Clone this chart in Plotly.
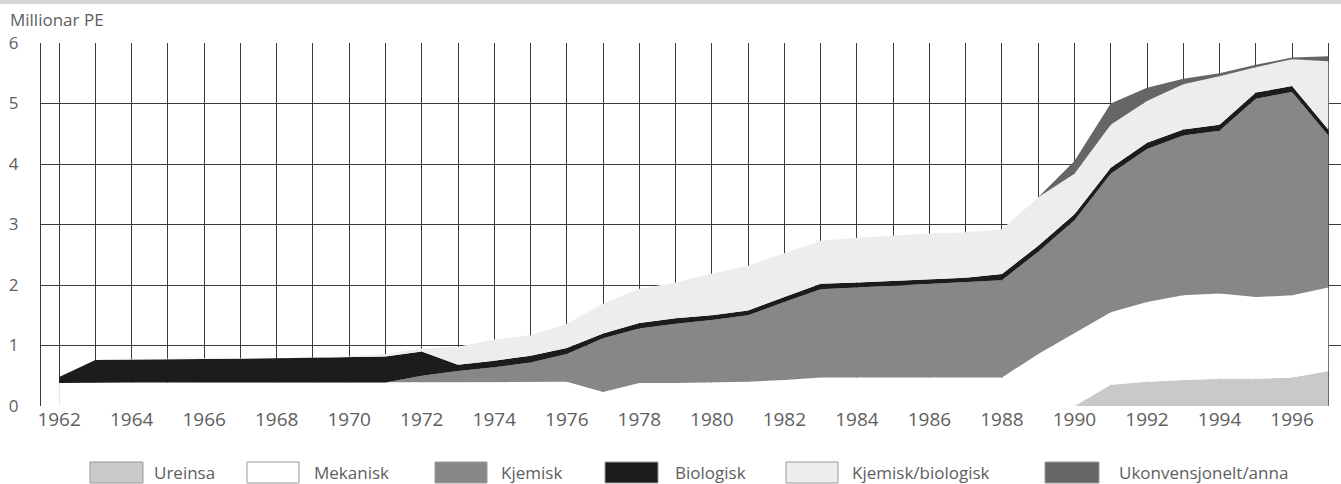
import plotly.graph_objects as go

years = list(range(1962, 1998))
xtick_labels = [str(y) if y % 2 == 0 else "" for y in years]
ytick_vals = [0, 1, 2, 3, 4, 5, 6]

ureinsa = [0.0] * 29 + [0.35, 0.40, 0.43, 0.45, 0.45, 0.47, 0.58]
mekanisk = [0.38, 0.39, 0.39, 0.39, 0.39, 0.39, 0.39, 0.39, 0.39, 0.39,
            0.39, 0.39, 0.39, 0.39, 0.40, 0.23, 0.38, 0.38, 0.39, 0.40,
            0.43, 0.47, 0.47, 0.47, 0.47, 0.47, 0.47, 0.86, 1.20, 1.20,
            1.32, 1.40, 1.41, 1.35, 1.36, 1.38]
kjemisk = [0.0] * 10 + [0.11, 0.19, 0.25, 0.33, 0.46, 0.89, 0.90, 0.98, 1.03, 1.10,
                        1.29, 1.46, 1.49, 1.52, 1.55, 1.57, 1.61, 1.69, 1.87, 2.29,
                        2.53, 2.64, 2.69, 3.28, 3.36, 2.51]
biologisk = [0.10, 0.37, 0.38, 0.38, 0.39, 0.39, 0.40, 0.41, 0.42, 0.43,
             0.40, 0.10, 0.11, 0.11, 0.10, 0.08, 0.09, 0.09, 0.08, 0.08,
             0.08, 0.09, 0.08, 0.08, 0.08, 0.08, 0.10, 0.10, 0.10, 0.10,
             0.10, 0.10, 0.10, 0.10, 0.10, 0.10]
kjem_bio = [0.0, 0.0, 0.01, 0.01, 0.01, 0.01, 0.0, 0.0, 0.01, 0.04,
            0.05, 0.30, 0.35, 0.34, 0.40, 0.49, 0.57, 0.59, 0.69, 0.74,
            0.73, 0.71, 0.74, 0.75, 0.75, 0.75, 0.74, 0.80, 0.67, 0.71,
            0.69, 0.75, 0.80, 0.42, 0.44, 1.13]
ukonv = [0.0] * 28 + [0.21, 0.35, 0.22, 0.09, 0.05, 0.04, 0.03, 0.08]

series = [
    ("Ureinsa", ureinsa, "#c9c9c9"),
    ("Mekanisk", mekanisk, "#ffffff"),
    ("Kjemisk", kjemisk, "#878787"),
    ("Biologisk", biologisk, "#1c1c1c"),
    ("Kjemisk/biologisk", kjem_bio, "#ededed"),
    ("Ukonvensjonelt/anna", ukonv, "#666666"),
]

fig = go.Figure()
for name, vals, col in series:
    fig.add_trace(go.Scatter(
        x=years, y=vals, name=name, mode="lines", stackgroup="one",
        line=dict(width=0, color=col), fillcolor=col, showlegend=False,
        hoverinfo="skip"))

W, H = 1341, 484
ml, mr, mt, mb = 41, 0, 43, 78
pw, ph = W - ml - mr, H - mt - mb
txt_col = "#5e5e5e"

def px_x(p):
    return (p - ml) / pw

def px_y(p):
    return (H - mb - p) / ph

shapes = []
annotations = []
legend_items = [
    ("Ureinsa", "#c9c9c9", 90, 143, 152),
    ("Mekanisk", "#ffffff", 247, 299, 312),
    ("Kjemisk", "#878787", 435, 487, 499),
    ("Biologisk", "#1c1c1c", 605, 658, 673),
    ("Kjemisk/biologisk", "#ededed", 786, 838, 850),
    ("Ukonvensjonelt/anna", "#666666", 1045, 1099, 1117),
]
for name, col, x0, x1, tx in legend_items:
    shapes.append(dict(type="rect", xref="paper", yref="paper",
                       x0=px_x(x0), x1=px_x(x1), y0=px_y(483), y1=px_y(462),
                       fillcolor=col, line=dict(color="#9a9a9a", width=1)))
    annotations.append(dict(xref="paper", yref="paper", x=px_x(tx), y=px_y(472),
                            text=name, showarrow=False, xanchor="left",
                            yanchor="middle",
                            font=dict(size=17, color=txt_col,
                                      family="Open Sans")))

annotations.append(dict(xref="paper", yref="paper", x=px_x(8), y=px_y(19),
                        text="Millionar PE", showarrow=False, xanchor="left",
                        yanchor="middle",
                        font=dict(size=17, color=txt_col, family="Open Sans")))

shapes.append(dict(type="rect", xref="paper", yref="paper",
                   x0=px_x(0), x1=px_x(W), y0=px_y(4), y1=px_y(0),
                   fillcolor="#d4d4d4", line=dict(width=0)))

fig.update_layout(
    width=W, height=H,
    margin=dict(l=ml, r=mr, t=mt, b=mb, pad=0),
    paper_bgcolor="white", plot_bgcolor="white",
    shapes=shapes, annotations=annotations,
    xaxis=dict(range=[1961.5, 1997.35], tickvals=years, ticktext=xtick_labels,
               showgrid=True, gridcolor="#3a3a3a", gridwidth=1,
               zeroline=False, ticks="", showline=False,
               tickfont=dict(size=19, color=txt_col, family="Open Sans")),
    yaxis=dict(range=[0, 6], tickvals=ytick_vals,
               showgrid=True, gridcolor="#3a3a3a", gridwidth=1,
               zeroline=False, ticks="", showline=True, linecolor="#3a3a3a",
               linewidth=1, ticklabelstandoff=18,
               tickfont=dict(size=17, color=txt_col, family="Open Sans")),
)

fig.write_html("out.html", config={"displayModeBar": False},
               post_script="document.body.style.margin='0';document.body.style.overflow='hidden';")
